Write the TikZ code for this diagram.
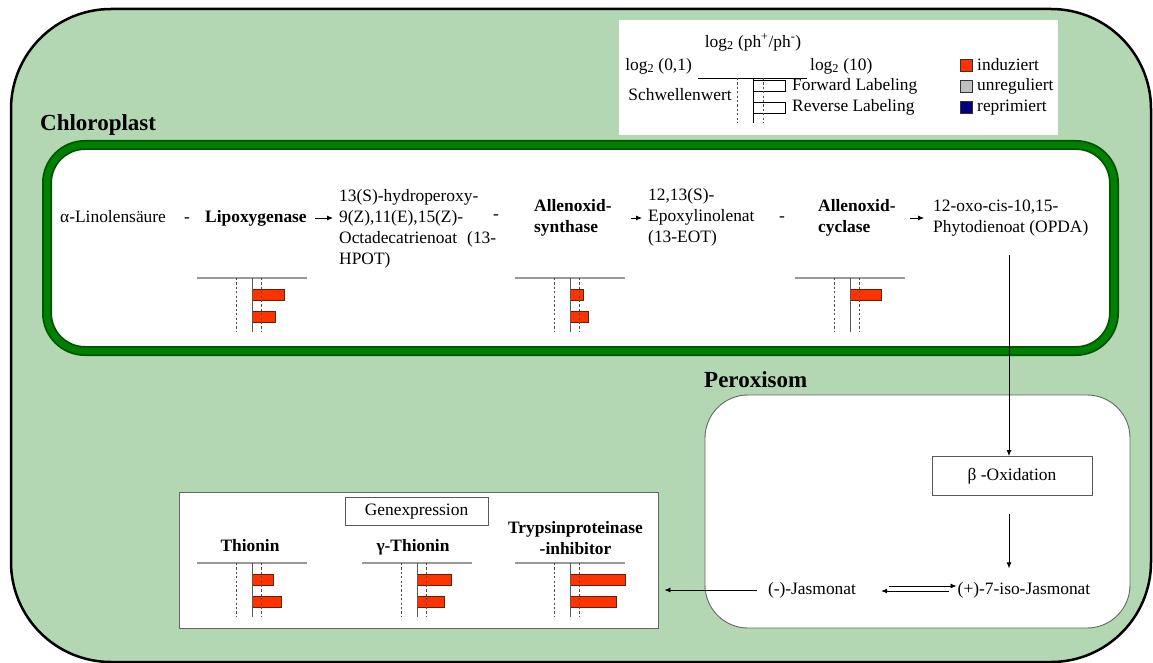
\documentclass[tikz,border=0pt]{standalone}
\usepackage{fontspec}
\setmainfont{Liberation Serif}
\usetikzlibrary{arrows.meta,calc}
\definecolor{cellgreen}{RGB}{179,214,179}
\definecolor{chlgreen}{RGB}{0,128,0}
\definecolor{chldark}{RGB}{0,85,0}
\definecolor{barred}{RGB}{255,51,0}
\definecolor{barline}{RGB}{110,30,0}
\definecolor{navyblue}{RGB}{0,0,128}
\definecolor{legendgrey}{RGB}{192,192,192}
\tikzset{
  txt/.style={font=\fontsize{17.4}{21}\selectfont, inner sep=0pt, align=left},
  bold/.style={txt, font=\fontsize{17.4}{21}\selectfont\bfseries},
  head/.style={inner sep=0pt, font=\fontsize{23}{27}\selectfont\bfseries},
  arr/.style={-{Latex[length=6pt,width=5pt]}, line width=0.8pt},
  rectbox/.style={txt, draw=black!65, line width=0.9pt, align=center},
  axisline/.style={draw=black!40, line width=1.4pt},
  zeroline/.style={draw=black!65, line width=1pt},
  thresh/.style={draw=black!70, line width=0.8pt, dash pattern=on 2.2pt off 2.2pt},
  barbox/.style={fill=barred, draw=barline, line width=0.7pt},
  sq/.style={draw=black!80, line width=0.6pt, minimum size=12pt, inner sep=0pt},
}
\newcommand\mychart[4]{%
  \draw[axisline] (#1-55,#2) -- (#1+55,#2);
  \draw[barbox] (#1,#2+11) rectangle (#1+#3,#2+22);
  \ifnum#4>0 \draw[barbox] (#1,#2+33) rectangle (#1+#4,#2+44);\fi
  \draw[thresh] (#1-16,#2) -- (#1-16,#2+54);
  \draw[thresh] (#1+9,#2) -- (#1+9,#2+54);
  \draw[zeroline] (#1,#2) -- (#1,#2+54);
}
\begin{document}
\begin{tikzpicture}[x=1pt,y=-1pt]
\useasboundingbox (0,0) rectangle (1153,663);
\fill[white] (0,0) rectangle (1153,663);
% cell
\draw[line width=2.5pt, fill=cellgreen, rounded corners=100pt] (11,9) rectangle (1151,662);
% legend
\fill[white] (619,20) rectangle (1058,135);
\node[txt] (lgtitle) at (753,43) {log\textsubscript{2} (ph\textsuperscript{+}/ph\textsuperscript{-})\strut};
\node[txt, anchor=east] (lglo) at (692,66) {log\textsubscript{2} (0,1)\strut};
\node[txt, anchor=west] (lghi) at (810,66) {log\textsubscript{2} (10)\strut};
\draw[line width=0.8pt] (698,78) -- (807,78);
\draw[line width=0.6pt] (753,80) rectangle (785,91);
\draw[line width=0.6pt] (753,102) rectangle (785,113);
\draw[thresh] (737,78) -- (737,123);
\draw[thresh] (763,78) -- (763,123);
\draw[line width=0.8pt] (753,78) -- (753,123);
\node[txt, anchor=west] (fwd) at (792,86) {Forward Labeling\strut};
\node[txt, anchor=west] (rev) at (792,107) {Reverse Labeling\strut};
\node[txt, anchor=east] (thr) at (732,96) {Schwellenwert\strut};
\node[sq, fill=barred] (sq1) at (966,65) {};
\node[sq, fill=legendgrey] (sq2) at (966,86) {};
\node[sq, fill=navyblue] (sq3) at (966,107) {};
\node[txt, anchor=west] (l1) at (977,66) {induziert\strut};
\node[txt, anchor=west] (l2) at (977,86) {unreguliert\strut};
\node[txt, anchor=west] (l3) at (977,107) {reprimiert\strut};
% chloroplast
\node[head, anchor=base west] (chl) at (40,131) {Chloroplast};
\draw[chldark, line width=10pt, fill=white, rounded corners=38pt] (47,145) rectangle (1114,351);
\draw[chlgreen, line width=6.5pt, rounded corners=38pt] (47,145) rectangle (1114,351);
\node[txt, anchor=west] (lin) at (60,218) {α-Linolensäure\strut};
\node[txt] (d1) at (187,218) {-\strut};
\node[bold, anchor=west] (lox) at (205,218) {Lipoxygenase\strut};
\node[txt, anchor=west] (hpot) at (339,229) {13(S)-hydroperoxy-\strut\\9(Z),11(E),15(Z)-\strut\\\makebox[157pt][s]{Octadecatrienoat (13-}\strut\\HPOT)\strut};
\node[txt] (d2) at (496,215) {-\strut};
\node[bold, anchor=west] (aos) at (534,218) {Allenoxid-\strut\\synthase\strut};
\node[txt, anchor=west] (eot) at (648,217) {12,13(S)-\strut\\Epoxylinolenat\strut\\(13-EOT)\strut};
\node[txt] (d3) at (782,217) {-\strut};
\node[bold, anchor=west] (aoc) at (818,218) {Allenoxid-\strut\\cyclase\strut};
\node[txt, anchor=west] (opda) at (933,218) {12-oxo-cis-10,15-\strut\\Phytodienoat (OPDA)\strut};
\draw[arr, shorten <=8pt, shorten >=6pt] (lox.east) -- (lox.east -| hpot.west);
\draw[arr, shorten <=19pt, shorten >=6pt] (aos.east) -- (aos.east -| eot.west);
\draw[arr, shorten <=14pt, shorten >=9pt] (aoc.east) -- (aoc.east -| opda.west);
\mychart{252}{278}{32}{23}
\mychart{570}{278}{13}{18}
\mychart{850}{278}{31}{0}
% peroxisome
\node[head, anchor=base west] (per) at (704,387) {Peroxisom};
\draw[draw=black!60, line width=0.9pt, fill=white, rounded corners=43pt] (705,395) rectangle (1130,628);
\node[rectbox, minimum width=160pt, minimum height=39pt] (box) at (1012,476) {β -Oxidation\strut};
\node[txt] (ja) at (812,590) {(-)-Jasmonat\strut};
\node[txt] (iso) at (1024,590) {(+)-7-iso-Jasmonat\strut};
\coordinate (opdaout) at (1009,255);
\draw[arr] (opdaout) -- (opdaout |- box.north);
\draw[arr, shorten <=18pt, shorten >=11pt] (opdaout |- box.south) -- (opdaout |- iso.north);
\draw[arr, shorten <=33pt, shorten >=1pt] ([yshift=4pt]ja.east) -- ([yshift=4pt]iso.west);
\draw[arr, shorten <=9pt, shorten >=25pt] ([yshift=-1pt]iso.west) -- ([yshift=-1pt]ja.east);
% gene expression
\node[draw=black!60, line width=0.9pt, fill=white, minimum width=479pt, minimum height=136pt, inner sep=0pt] (gene) at (418.5,560) {};
\node[rectbox, minimum width=143pt, minimum height=28pt] (gx) at (416.5,511) {Genexpression\strut};
\node[bold] (thio) at (250,547) {Thionin\strut};
\node[bold] (gthio) at (413,547) {γ-Thionin\strut};
\node[bold, align=center] (tpi) at (575.5,540) {Trypsinproteinase\strut\\-inhibitor\strut};
\mychart{252}{563}{21}{29}
\mychart{417}{563}{34}{27}
\mychart{570}{563}{55}{46}
\draw[arr, shorten <=11pt, shorten >=6pt] (ja.west) -- (ja.west -| gene.east);
\end{tikzpicture}
\end{document}
